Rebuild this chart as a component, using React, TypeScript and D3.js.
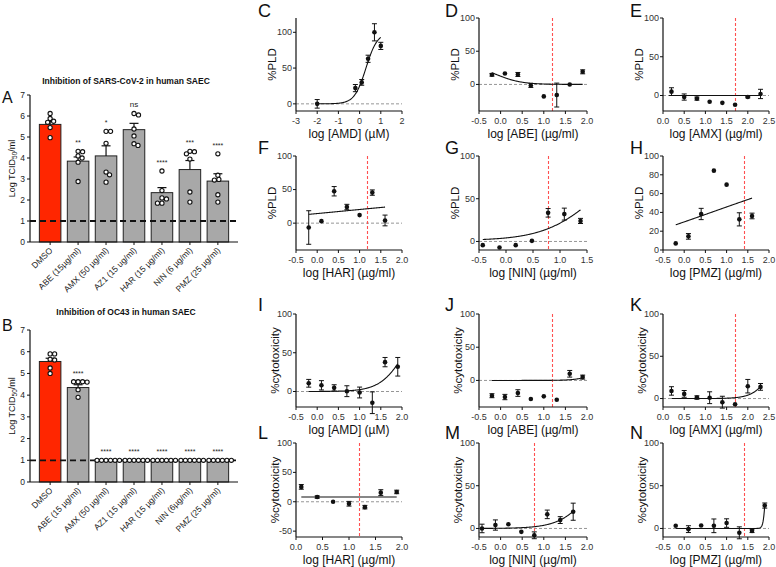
import React from 'react';
import * as d3 from 'd3';

const FONT = '"Liberation Sans", Arial, Helvetica, sans-serif';

// ---------------- Panel A / B data ----------------
const catsA = ['DMSO', 'ABE (15µg/ml)', 'AMX (50 µg/ml)', 'AZ1 (15 ug/ml)', 'HAR (15 µg/ml)', 'NIN (6 µg/ml)', 'PMZ (25 µg/ml)'];
const meansA = [5.6, 3.85, 4.1, 5.35, 2.35, 3.45, 2.9];
const semsA = [0.14, 0.2, 0.48, 0.3, 0.24, 0.43, 0.35];
const ptsA = [
  [6.12, 5.88, 5.75, 5.7, 5.45, 4.97],
  [4.32, 4.3, 4.1, 4.0, 3.8, 2.88],
  [5.27, 5.27, 4.7, 3.33, 3.2, 2.85],
  [6.12, 6.05, 5.38, 5.05, 4.68, 4.6],
  [3.38, 2.45, 2.1, 2.05, 1.85, 1.85],
  [4.32, 4.3, 4.2, 3.95, 2.38, 1.9],
  [4.2, 3.18, 2.98, 2.95, 2.25, 1.9],
];
const sigA = ['', '**', '*', 'ns', '****', '***', '****'];

const catsB = ['DMSO', 'ABE (15 µg/ml)', 'AMX (50 µg/ml)', 'AZ1 (15 µg/ml)', 'HAR (15 µg/ml)', 'NIN (6µg/ml)', 'PMZ (25 µg/ml)'];
const meansB = [5.55, 4.35, 1, 1, 1, 1, 1];
const semsB = [0.15, 0.13, 0, 0, 0, 0, 0];
const ptsB = [
  [5.9, 5.9, 5.65, 5.62, 5.25, 5.0],
  [4.62, 4.62, 4.62, 4.6, 4.25, 3.9],
  [1, 1, 1, 1, 1, 1],
  [1, 1, 1, 1, 1, 1],
  [1, 1, 1, 1, 1, 1],
  [1, 1, 1, 1, 1, 1],
  [1, 1, 1, 1, 1, 1],
];
const sigB = ['', '****', '****', '****', '****', '****', '****'];
const barYTicks = [0, 1, 2, 3, 4, 5, 6, 7];

// ---------------- Dose-response panels data ----------------
const cX = [-2, -0.2, 0.1, 0.4, 0.7, 1.0];
const cY = [0, 22, 30, 63, 100, 81];
const cE = [6, 5, 4, 5, 12, 5];
const cFit = [0, 100, 0.3, 1.6];

const dX = [-0.2, 0.1, 0.4, 0.7, 1.0, 1.3, 1.6, 1.9];
const dY = [14.5, 16.5, 15, -1.5, -18, -16, 0, 19];
const dE = [2, 0, 3, 3, 0, 18, 0, 3];
const dFit = [0, 30, -0.1, -1.5];

const eX = [0.2, 0.5, 0.8, 1.1, 1.4, 1.7, 2.0, 2.3];
const eY = [5, -2, -4, -8, -9.5, -12, -2, 2];
const eE = [5, 4, 2, 0, 0, 0, 1, 6];
const eFit = [0, 0, 1, 1];

const fX = [-0.2, 0.1, 0.4, 0.7, 1.0, 1.3, 1.6];
const fY = [-6.5, 3, 47.5, 24, 12, 45.5, 4];
const fE = [25, 0, 7, 4, 0, 4, 8];
const fFit = [-8, 45, 0.7, 0.2];

const gX = [-0.43, -0.12, 0.18, 0.48, 0.78, 1.08, 1.38];
const gY = [-4.3, -7, -4.3, 0.7, 33.5, 32, 24];
const gE = [0, 0, 0, 0, 5, 7, 3];
const gFit = [1, 100, 1.65, 0.9];

const hX = [-0.2, 0.1, 0.4, 0.7, 1.0, 1.3, 1.6];
const hY = [7, 14.5, 38.3, 84.4, 69.5, 32.6, 36.2];
const hE = [0, 3, 6, 0, 0, 7, 3];
const hFit = [-28.5, 110.5, 0.7, 0.2];

const iX = [-0.2, 0.1, 0.4, 0.7, 1.0, 1.3, 1.6, 1.9];
const iY = [10.6, 8, 4.7, 0.4, -1.3, -14.5, 37.9, 31.9];
const iE = [5, 6, 4, 7, 7, 14, 6, 12];
const iFit = [0, 100, 2.07, 1.5];

const jX = [-0.2, 0.1, 0.4, 0.7, 1.0, 1.3, 1.6, 1.9];
const jY = [-23, -25, -19, -28, -24, -29, 10, 5];
const jE = [3, 4, 5, 0, 0, 0, 5, 3];
const jFit = [0, 100, 2.59, 2];

const kX = [0.2, 0.5, 0.8, 1.1, 1.4, 1.7, 2.0, 2.3];
const kY = [9, 5.5, 1.2, 1, -4.3, -6.7, 14.6, 13.8];
const kE = [5, 4, 2, 7, 7, 0, 8, 4];
const kFit = [0, 100, 2.69, 2];

const lX = [0.1, 0.4, 0.7, 1.0, 1.3, 1.6, 1.9];
const lY = [25.3, 8, 0, -3.4, -9.2, 15.5, 16.7];
const lE = [4, 2, 0, 4, 3, 5, 3];
const lFit = [8, 8, 1, 1];

const mX = [-0.43, -0.12, 0.18, 0.48, 0.78, 1.08, 1.38, 1.68];
const mY = [0, 4, 5, -4, -8, 16.5, 9.8, 19.6];
const mE = [5, 6, 0, 0, 4, 5, 4, 10];
const mFit = [0, 100, 2.18, 1.2];

const nX = [-0.2, 0.1, 0.4, 0.7, 1.0, 1.3, 1.6, 1.9];
const nY = [3.1, -0.8, 3.5, 3.1, 6.3, -5.1, -2.8, 26.8];
const nE = [0, 4, 0, 8, 5, 7, 2, 3];
const nFit = [0, 100, 1.927, 15.7];

const ticksM3 = [-3, -2, -1, 0, 1, 2];
const ticksHalf = [-0.5, 0, 0.5, 1, 1.5, 2];
const ticksHalfShort = [-0.5, 0, 0.5, 1, 1.5];
const ticksZero25 = [0, 0.5, 1, 1.5, 2, 2.5];
const ticksZero2 = [0, 0.5, 1, 1.5, 2];
const yTicks50 = [0, 50, 100];
const yTicks20 = [0, 20, 40, 60, 80, 100];
const yTicksL = [-50, 0, 50, 100];

const panels = [
  { letter: 'C', col: 0, row: 0, xs: cX, ys: cY, es: cE, fit: cFit, xDomain: [-3, 2], xTicks: ticksM3, yDomain: [-10, 120], yTicks: yTicks50, xLabel: 'log [AMD] (µM)', yLabel: '%PLD', vline: null, intTicks: true },
  { letter: 'D', col: 1, row: 0, xs: dX, ys: dY, es: dE, fit: dFit, xDomain: [-0.5, 2], xTicks: ticksHalf, yDomain: [-40, 100], yTicks: yTicks50, xLabel: 'log [ABE] (µg/ml)', yLabel: '%PLD', vline: 1.18 },
  { letter: 'E', col: 2, row: 0, xs: eX, ys: eY, es: eE, fit: eFit, xDomain: [0, 2.5], xTicks: ticksZero25, yDomain: [-20, 100], yTicks: yTicks50, xLabel: 'log [AMX] (µg/ml)', yLabel: '%PLD', vline: 1.7 },
  { letter: 'F', col: 0, row: 1, xs: fX, ys: fY, es: fE, fit: fFit, xDomain: [-0.5, 2], xTicks: ticksHalf, yDomain: [-40, 100], yTicks: yTicks50, xLabel: 'log [HAR] (µg/ml)', yLabel: '%PLD', vline: 1.18 },
  { letter: 'G', col: 1, row: 1, xs: gX, ys: gY, es: gE, fit: gFit, xDomain: [-0.5, 1.5], xTicks: ticksHalfShort, yDomain: [-10, 100], yTicks: yTicks50, xLabel: 'log [NIN] (µg/ml)', yLabel: '%PLD', vline: 0.78 },
  { letter: 'H', col: 2, row: 1, xs: hX, ys: hY, es: hE, fit: hFit, xDomain: [-0.5, 2], xTicks: ticksHalf, yDomain: [0, 100], yTicks: yTicks20, xLabel: 'log [PMZ] (µg/ml)', yLabel: '%PLD', vline: 1.4 },
  { letter: 'I', col: 0, row: 2, xs: iX, ys: iY, es: iE, fit: iFit, xDomain: [-0.5, 2], xTicks: ticksHalf, yDomain: [-20, 100], yTicks: yTicks50, xLabel: 'log [AMD] (µM)', yLabel: '%cytotoxicity', vline: null },
  { letter: 'J', col: 1, row: 2, xs: jX, ys: jY, es: jE, fit: jFit, xDomain: [-0.5, 2], xTicks: ticksHalf, yDomain: [-40, 100], yTicks: yTicks50, xLabel: 'log [ABE] (µg/ml)', yLabel: '%cytotoxicity', vline: 1.18 },
  { letter: 'K', col: 2, row: 2, xs: kX, ys: kY, es: kE, fit: kFit, xDomain: [0, 2.5], xTicks: ticksZero25, yDomain: [-10, 100], yTicks: yTicks50, xLabel: 'log [AMX] (µg/ml)', yLabel: '%cytotoxicity', vline: 1.7 },
  { letter: 'L', col: 0, row: 3, xs: lX, ys: lY, es: lE, fit: lFit, xDomain: [0, 2], xTicks: ticksZero2, yDomain: [-60, 100], yTicks: yTicksL, xLabel: 'log [HAR] (µg/ml)', yLabel: '%cytotoxicity', vline: 1.18 },
  { letter: 'M', col: 1, row: 3, xs: mX, ys: mY, es: mE, fit: mFit, xDomain: [-0.5, 2], xTicks: ticksHalf, yDomain: [-10, 100], yTicks: yTicks50, xLabel: 'log [NIN] (µg/ml)', yLabel: '%cytotoxicity', vline: 0.78 },
  { letter: 'N', col: 2, row: 3, xs: nX, ys: nY, es: nE, fit: nFit, xDomain: [-0.5, 2], xTicks: ticksHalf, yDomain: [-10, 100], yTicks: yTicks50, xLabel: 'log [PMZ] (µg/ml)', yLabel: '%cytotoxicity', vline: 1.4 },
];

// ---------------- Layout ----------------
const COLS = [
  { x0: 296, x1: 402, lx: 258 },
  { x0: 479, x1: 587, lx: 445 },
  { x0: 663, x1: 769, lx: 630 },
];
const ROWS = [
  { top: 18, bottom: 111, ly: 17 },
  { top: 156, bottom: 250, ly: 154 },
  { top: 314, bottom: 407, ly: 311 },
  { top: 443, bottom: 537, ly: 439 },
];

function fourPL(p: number[], x: number) {
  const [b, t, c, h] = p;
  return b + (t - b) / (1 + Math.pow(10, (c - x) * h));
}

function swarm(vals: number[], cx: number, yS: (v: number) => number, minD: number) {
  const order = vals.map((_, i) => i).sort((a, b) => vals[b] - vals[a]);
  const placed: { x: number; y: number }[] = [];
  const out: { x: number; y: number }[] = new Array(vals.length);
  for (const i of order) {
    const py = yS(vals[i]);
    let chosen = 0;
    for (let k = 0; k < 400; k++) {
      const step = Math.ceil(k / 2) * 0.5;
      const dx = k % 2 === 1 ? step : -step;
      const ok = placed.every((p) => (p.x - dx) ** 2 + (p.y - py) ** 2 >= minD * minD);
      if (ok) { chosen = dx; break; }
    }
    placed.push({ x: chosen, y: py });
    out[i] = { x: cx + chosen, y: py };
  }
  return out;
}

type BarProps = {
  letter: string; title: string; cats: string[]; means: number[]; sems: number[];
  pts: number[][]; sig: string[]; x0: number; x1: number; yBottom: number; yTop: number;
  titleY: number; letterY: number;
};

function BarPanel(p: BarProps) {
  const y = d3.scaleLinear([0, 7], [p.yBottom, p.yTop]);
  const x = d3.scaleBand(p.cats, [p.x0, p.x1]).paddingInner(0.23).paddingOuter(0.335);
  const bw = x.bandwidth();
  const midY = (p.yBottom + p.yTop) / 2;
  return (
    <g fontFamily={FONT}>
      <text x={2} y={p.letterY} fontSize={16} fill="#111">{p.letter}</text>
      <text x={(p.x0 + p.x1) / 2 - 8} y={p.titleY} fontSize={8.5} fontWeight="bold" textAnchor="middle" fill="#111">{p.title}</text>
      <text transform={`translate(${p.x0 - 15},${midY}) rotate(-90)`} fontSize={9} textAnchor="middle" fill="#111">
        Log TCID<tspan fontSize={6.5} dy={2}>50</tspan><tspan dy={-2}>/ml</tspan>
      </text>
      {p.cats.map((c, i) => {
        const cx = (x(c) as number) + bw / 2;
        return (
          <g key={c}>
            <rect x={x(c)} y={y(p.means[i])} width={bw} height={p.yBottom - y(p.means[i])}
              fill={i === 0 ? '#ff2600' : '#a8a8a8'} stroke="#222" strokeWidth={1} />
            {p.sems[i] > 0 && (
              <g stroke="#111" strokeWidth={1.2}>
                <line x1={cx} x2={cx} y1={y(p.means[i])} y2={y(p.means[i] + p.sems[i])} />
                <line x1={cx - 4.5} x2={cx + 4.5} y1={y(p.means[i] + p.sems[i])} y2={y(p.means[i] + p.sems[i])} />
              </g>
            )}
          </g>
        );
      })}
      <line x1={p.x0} x2={p.x1} y1={y(1)} y2={y(1)} stroke="#111" strokeWidth={1.8} strokeDasharray="6,4" />
      {p.cats.map((c, i) => {
        const cx = (x(c) as number) + bw / 2;
        const pos = swarm(p.pts[i], cx, y, 4.3);
        const top = Math.max(d3.max(p.pts[i]) as number, p.means[i] + p.sems[i]);
        return (
          <g key={c + 'p'}>
            {pos.map((q, k) => (
              <circle key={k} cx={q.x} cy={q.y} r={2.1} fill="#fff" stroke="#111" strokeWidth={1.1} />
            ))}
            {p.sig[i] && (
              <text x={cx} y={y(top) - 6} fontSize={p.sig[i] === 'ns' ? 8 : 7} textAnchor="middle" fill="#222">{p.sig[i]}</text>
            )}
          </g>
        );
      })}
      <line x1={p.x0} x2={p.x0} y1={p.yBottom} y2={p.yTop} stroke="#111" strokeWidth={1.2} />
      <line x1={p.x0} x2={p.x1} y1={p.yBottom} y2={p.yBottom} stroke="#111" strokeWidth={1.2} />
      {barYTicks.map((t) => (
        <g key={t}>
          <line x1={p.x0 - 3} x2={p.x0} y1={y(t)} y2={y(t)} stroke="#111" strokeWidth={1} />
          <text x={p.x0 - 5} y={y(t) + 3} fontSize={8.5} textAnchor="end" fill="#222">{t}</text>
        </g>
      ))}
      {p.cats.map((c) => {
        const cx = (x(c) as number) + bw / 2;
        return (
          <g key={c + 't'}>
            <line x1={cx} x2={cx} y1={p.yBottom} y2={p.yBottom + 3} stroke="#111" strokeWidth={1} />
            <text transform={`translate(${cx + 3},${p.yBottom + 9}) rotate(-45)`} fontSize={8.5} textAnchor="end" fill="#222">{c}</text>
          </g>
        );
      })}
    </g>
  );
}

function DosePanel({ p }: { p: any }) {
  const col = COLS[p.col];
  const row = ROWS[p.row];
  const x = d3.scaleLinear(p.xDomain, [col.x0, col.x1]);
  const y = d3.scaleLinear(p.yDomain, [row.bottom, row.top]);
  const xmin = d3.min(p.xs as number[]) as number;
  const xmax = d3.max(p.xs as number[]) as number;
  const samples = d3.range(0, 201).map((i) => xmin + ((xmax - xmin) * i) / 200);
  const line = d3.line<number>().x((v) => x(v)).y((v) => y(fourPL(p.fit, v)));
  const fmt = p.intTicks ? (v: number) => String(v) : (v: number) => v.toFixed(1);
  const isCyto = p.yLabel !== '%PLD';
  const midY = (row.top + row.bottom) / 2;
  const vx = p.vline != null ? Math.round(x(p.vline)) + 0.5 : 0;
  return (
    <g fontFamily={FONT}>
      <text x={col.lx} y={row.ly} fontSize={18} fill="#111">{p.letter}</text>
      {p.yDomain[0] < 0 && (
        <line x1={col.x0} x2={col.x1} y1={y(0)} y2={y(0)} stroke="#8a8a8a" strokeWidth={0.9} strokeDasharray="3,2" />
      )}
      {p.vline != null && (
        <line x1={vx} x2={vx} y1={row.top} y2={row.bottom} stroke="#ff5050" strokeWidth={1.1} strokeDasharray="3,2" />
      )}
      <path d={line(samples) as string} fill="none" stroke="#111" strokeWidth={1.1} />
      {p.xs.map((xv: number, i: number) => {
        const e = p.es[i];
        const cx = x(xv);
        return (
          <g key={i}>
            {e > 0 && (
              <g stroke="#111" strokeWidth={1}>
                <line x1={cx} x2={cx} y1={y(p.ys[i] - e)} y2={y(p.ys[i] + e)} />
                <line x1={cx - 2.5} x2={cx + 2.5} y1={y(p.ys[i] - e)} y2={y(p.ys[i] - e)} />
                <line x1={cx - 2.5} x2={cx + 2.5} y1={y(p.ys[i] + e)} y2={y(p.ys[i] + e)} />
              </g>
            )}
            <circle cx={cx} cy={y(p.ys[i])} r={2.3} fill="#111" />
          </g>
        );
      })}
      <line x1={col.x0} x2={col.x0} y1={row.bottom} y2={row.top} stroke="#111" strokeWidth={1.2} />
      <line x1={col.x0} x2={col.x1} y1={row.bottom} y2={row.bottom} stroke="#111" strokeWidth={1.2} />
      {p.yTicks.map((t: number) => (
        <g key={'y' + t}>
          <line x1={col.x0 - 3} x2={col.x0} y1={y(t)} y2={y(t)} stroke="#111" strokeWidth={1} />
          <text x={col.x0 - 4} y={y(t) + 2.8} fontSize={9} textAnchor="end" fill="#333">{t}</text>
        </g>
      ))}
      {p.xTicks.map((t: number) => (
        <g key={'x' + t}>
          <line x1={x(t)} x2={x(t)} y1={row.bottom} y2={row.bottom + 3} stroke="#111" strokeWidth={1} />
          <text x={x(t)} y={row.bottom + 12.5} fontSize={9} textAnchor="middle" fill="#333">{fmt(t)}</text>
        </g>
      ))}
      <text x={(col.x0 + col.x1) / 2} y={row.bottom + 27} fontSize={12} textAnchor="middle" fill="#111">{p.xLabel}</text>
      <text transform={`translate(${col.x0 - (isCyto ? 17 : 20)},${midY}) rotate(-90)`} fontSize={11.5} textAnchor="middle" fill="#111">{p.yLabel}</text>
    </g>
  );
}

export default function App() {
  return (
    <svg width={776} height={567} viewBox="0 0 776 567" style={{ position: 'absolute', left: 0, top: 0, background: '#fff' }}>
      <rect x={0} y={0} width={776} height={567} fill="#fff" />
      <BarPanel letter="A" title="Inhibition of SARS-CoV-2 in human SAEC" cats={catsA} means={meansA} sems={semsA}
        pts={ptsA} sig={sigA} x0={30} x1={238} yBottom={242} yTop={95} titleY={84} letterY={103} />
      <BarPanel letter="B" title="Inhibition of OC43 in human SAEC" cats={catsB} means={meansB} sems={semsB}
        pts={ptsB} sig={sigB} x0={30} x1={238} yBottom={482} yTop={330} titleY={315} letterY={331} />
      {panels.map((p) => <DosePanel key={p.letter} p={p} />)}
    </svg>
  );
}
